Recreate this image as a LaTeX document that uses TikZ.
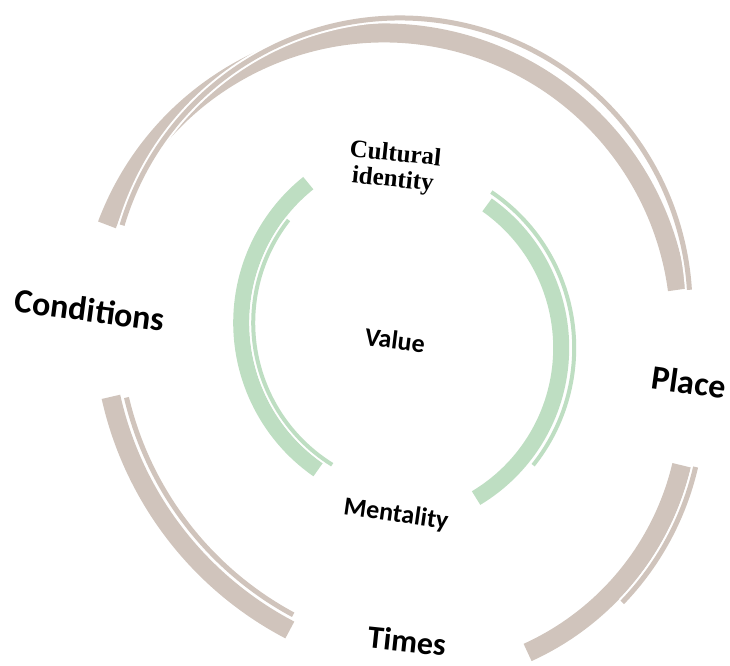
\documentclass[tikz,border=0pt]{standalone}
\usepackage{fontspec}
\setmainfont{Carlito}
\newfontfamily\serifb{Liberation Serif}
\definecolor{ring}{RGB}{208,196,188}
\definecolor{leaf}{RGB}{190,222,194}
\begin{document}
\begin{tikzpicture}[x=1pt,y=-1pt,
  thickring/.style={draw=ring,line width=19pt},
  thinring/.style={draw=ring,line width=5pt,preaction={draw=white,line width=9pt}},
  thickleaf/.style={draw=leaf,line width=16pt},
  thinleaf/.style={draw=leaf,line width=4pt,preaction={draw=white,line width=7.5pt}},
  biglab/.style={font=\bfseries\fontsize{34}{40}\selectfont,inner sep=0pt},
  midlab/.style={font=\bfseries\fontsize{26}{30}\selectfont,inner sep=0pt},
  serlab/.style={font=\serifb\bfseries\fontsize{25}{26}\selectfont,inner sep=0pt,align=center}
]
\useasboundingbox (0,0) rectangle (730,665);
% outer ring: top arc
\draw[thickring] ([shift={(384,329)}]200.6:296) arc[start angle=200.6,end angle=352.4,radius=296];
\draw[thinring] ([shift={(400,308)}]196.6:290) arc[start angle=196.6,end angle=356.4,radius=290];
% outer ring: lower left arc
\draw[thickring] ([shift={(451.5,320.7)}]117.6:349) arc[start angle=117.6,end angle=167.4,radius=349];
\draw[thinring] ([shift={(451.5,320.7)}]118.3:334) arc[start angle=118.3,end angle=166.7,radius=334];
% outer ring: lower right arc
\draw[thickring] ([shift={(414,402)}]13.3:275) arc[start angle=13.3,end angle=65.6,radius=275];
\draw[thinring] ([shift={(414,402)}]13:289) arc[start angle=13,end angle=43.9,radius=289];
% inner ring: left arc
\draw[thickleaf] ([shift={(420.2,322.8)}]124.8:179) arc[start angle=124.8,end angle=231.3,radius=179];
\draw[thinleaf] ([shift={(420.2,322.8)}]121.8:167) arc[start angle=121.8,end angle=218,radius=167];
% inner ring: right arc
\draw[thickleaf] ([shift={(386.2,347.9)}]-54.8:175) arc[start angle=-54.8,end angle=59.1,radius=175];
\draw[thinleaf] ([shift={(386.2,347.9)}]-56:188) arc[start angle=-56,end angle=38.6,radius=188];
% labels
\node[biglab,rotate=-7.5] (cond) at (90,310) {Conditions};
\node[biglab,rotate=-8] (place) at (689,382) {Place};
\node[biglab,font=\bfseries\fontsize{32}{38}\selectfont,rotate=-6] (times) at (407,641) {Times};
\node[midlab,rotate=-7] (value) at (395,340) {Value};
\node[midlab,rotate=-8] (ment) at (396,515) {Mentality};
\node[serlab,rotate=-6] (cult) at (394,168) {Cultural\\identity};
\end{tikzpicture}
\end{document}
